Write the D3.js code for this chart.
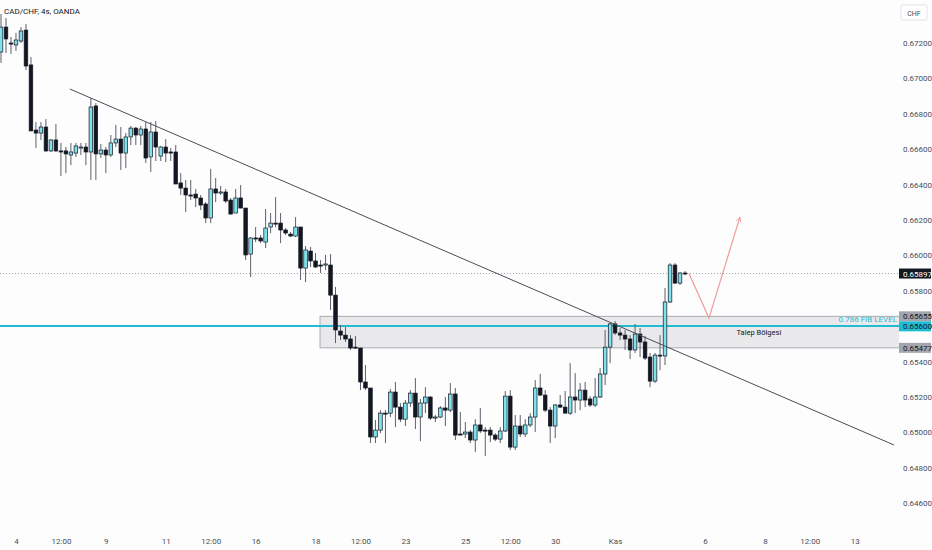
<!DOCTYPE html>
<html>
<head>
<meta charset="utf-8">
<script src="https://cdn.jsdelivr.net/npm/d3@7"></script>
<style>
  body { margin: 0; background: #fdfdfd; }
  text { font-family: Roboto, "Liberation Sans", sans-serif; }
</style>
</head>
<body>
<svg id="chart" width="932" height="550"></svg>
<script>
// CAD/CHF 4h candles (OANDA), 4 Oct - 3 Nov
const opens = [
  0.67149,0.67290,0.67200,0.67189,0.67211,0.67273,0.67076,0.66708,0.66691,0.66725,
  0.66590,0.66652,0.66590,0.66590,0.66567,0.66578,0.66606,0.66612,0.66584,0.66844,
  0.66573,0.66595,0.66567,0.66635,0.66657,0.66578,0.66669,0.66719,0.66680,0.66714,
  0.66556,0.66697,0.66561,0.66612,0.66584,0.66584,0.66409,0.66380,0.66341,0.66346,
  0.66324,0.66290,0.66211,0.66375,0.66352,0.66358,0.66312,0.66239,0.66324,0.66267,
  0.66007,0.66098,0.66098,0.66075,0.66160,0.66182,0.66182,0.66143,0.66120,0.66109,
  0.66160,0.65928,0.66024,0.65968,0.65945,0.65945,0.65945,0.65775,0.65572,0.65549,
  0.65527,0.65481,0.65476,0.65284,0.65250,0.64973,0.65012,0.65108,0.65108,0.65227,
  0.65142,0.65074,0.65165,0.65221,0.65086,0.65165,0.65199,0.65080,0.65086,0.65137,
  0.65125,0.65216,0.64990,0.64990,0.65001,0.64956,0.65041,0.65012,0.65012,0.64984,
  0.64961,0.65007,0.65204,0.64916,0.65035,0.64990,0.65041,0.65086,0.65250,0.65210,
  0.65125,0.65035,0.65154,0.65142,0.65108,0.65199,0.65182,0.65238,0.65188,0.65154,
  0.65199,0.65329,0.65481,0.65612,0.65561,0.65549,0.65527,0.65465,0.65555,0.65510,
  0.65425,0.65289,0.65436,0.65431,0.65736,0.65945,0.65843,0.65900
];
const highs = [
  0.67364,0.67341,0.67234,0.67257,0.67290,0.67307,0.67121,0.66753,0.66753,0.66770,
  0.66657,0.66742,0.66635,0.66612,0.66635,0.66635,0.66635,0.66635,0.66889,0.66861,
  0.66629,0.66612,0.66680,0.66737,0.66725,0.66691,0.66731,0.66725,0.66731,0.66753,
  0.66753,0.66759,0.66618,0.66657,0.66606,0.66623,0.66465,0.66426,0.66426,0.66375,
  0.66341,0.66301,0.66488,0.66437,0.66392,0.66375,0.66324,0.66375,0.66397,0.66267,
  0.66103,0.66160,0.66115,0.66262,0.66239,0.66329,0.66239,0.66154,0.66132,0.66216,
  0.66160,0.66052,0.66047,0.66013,0.65973,0.66002,0.66007,0.65821,0.65606,0.65595,
  0.65549,0.65544,0.65476,0.65380,0.65250,0.65069,0.65125,0.65125,0.65244,0.65284,
  0.65165,0.65182,0.65238,0.65306,0.65188,0.65255,0.65204,0.65097,0.65148,0.65199,
  0.65278,0.65250,0.65114,0.65058,0.65012,0.65074,0.65137,0.65029,0.65029,0.64995,
  0.65029,0.65233,0.65238,0.65097,0.65097,0.65074,0.65108,0.65295,0.65329,0.65238,
  0.65142,0.65159,0.65210,0.65233,0.65391,0.65334,0.65278,0.65284,0.65204,0.65306,
  0.65363,0.65578,0.65617,0.65628,0.65589,0.65578,0.65549,0.65612,0.65589,0.65544,
  0.65448,0.65448,0.65549,0.65815,0.65956,0.65956,0.65905,0.65911
];
const lows = [
  0.67087,0.67143,0.67138,0.67155,0.67200,0.67047,0.66703,0.66606,0.66652,0.66584,
  0.66584,0.66584,0.66448,0.66465,0.66510,0.66556,0.66567,0.66510,0.66426,0.66426,
  0.66550,0.66465,0.66556,0.66612,0.66482,0.66493,0.66623,0.66623,0.66623,0.66522,
  0.66471,0.66533,0.66533,0.66527,0.66533,0.66403,0.66341,0.66245,0.66312,0.66273,
  0.66256,0.66182,0.66182,0.66301,0.66341,0.66296,0.66233,0.66239,0.66267,0.65973,
  0.65877,0.66075,0.66069,0.66041,0.66126,0.66160,0.66069,0.66115,0.66103,0.66103,
  0.65860,0.65849,0.65934,0.65928,0.65900,0.65917,0.65691,0.65504,0.65521,0.65510,
  0.65465,0.65470,0.65238,0.65238,0.64939,0.64939,0.64995,0.64939,0.65086,0.65029,
  0.65058,0.65035,0.65142,0.65018,0.64950,0.65108,0.65069,0.65058,0.65080,0.65035,
  0.65114,0.64956,0.64984,0.64967,0.64939,0.64888,0.64995,0.64865,0.64944,0.64950,
  0.64939,0.65001,0.64899,0.64899,0.64973,0.64973,0.65029,0.65001,0.65204,0.65114,
  0.64939,0.64967,0.65137,0.65108,0.65097,0.65108,0.65125,0.65142,0.65142,0.65142,
  0.65193,0.65267,0.65391,0.65549,0.65521,0.65465,0.65414,0.65448,0.65425,0.65408,
  0.65255,0.65278,0.65351,0.65380,0.65730,0.65838,0.65832,0.65888
];
const closes = [
  0.67290,0.67223,0.67194,0.67217,0.67268,0.67070,0.66703,0.66691,0.66725,0.66590,
  0.66652,0.66590,0.66584,0.66573,0.66584,0.66618,0.66612,0.66584,0.66838,0.66573,
  0.66595,0.66567,0.66635,0.66657,0.66578,0.66669,0.66719,0.66680,0.66714,0.66550,
  0.66697,0.66612,0.66612,0.66578,0.66578,0.66403,0.66380,0.66341,0.66335,0.66324,
  0.66284,0.66211,0.66375,0.66352,0.66358,0.66307,0.66233,0.66324,0.66267,0.66002,
  0.66098,0.66092,0.66081,0.66154,0.66182,0.66177,0.66143,0.66126,0.66109,0.66160,
  0.65928,0.66030,0.65968,0.65934,0.65939,0.65951,0.65775,0.65578,0.65549,0.65527,
  0.65476,0.65476,0.65284,0.65250,0.64973,0.65012,0.65108,0.65103,0.65227,0.65142,
  0.65074,0.65165,0.65221,0.65086,0.65165,0.65199,0.65080,0.65086,0.65137,0.65125,
  0.65216,0.64984,0.64984,0.65001,0.64956,0.65041,0.65007,0.65007,0.64984,0.64961,
  0.65007,0.65204,0.64916,0.65035,0.64990,0.65041,0.65086,0.65250,0.65210,0.65125,
  0.65035,0.65154,0.65142,0.65108,0.65199,0.65182,0.65238,0.65182,0.65154,0.65199,
  0.65329,0.65481,0.65612,0.65561,0.65549,0.65527,0.65465,0.65555,0.65510,0.65419,
  0.65289,0.65436,0.65431,0.65736,0.65945,0.65843,0.65900,0.65897
];

// time axis: candle index of each label
const tickIdx = [3, 12, 21, 33, 42, 51, 63, 72, 81, 93, 102, 111, 123, 141, 153, 162, 171];
const tickLabels = ["4", "12:00", "9", "11", "12:00", "16", "18", "12:00", "23", "25", "12:00", "30", "Kas", "6", "8", "12:00", "13"];
const priceTicks = [0.646, 0.648, 0.650, 0.652, 0.654, 0.656, 0.658, 0.660, 0.662, 0.664, 0.666, 0.668, 0.670, 0.672];

// drawings (candle index, price)
const lastPrice = 0.65897;
const fibLevel = 0.65600;
const zoneStart = 63.9, zoneTop = 0.65655, zoneBottom = 0.65477, zoneLabelIdx = 151.8;
const trendLine = [[13.8, 0.66940], [178.85, 0.64928]];
const arrowPts = [[137.8, 0.65897], [141.8, 0.65645], [148.0, 0.66216]];
const boxValues = [0.65897, 0.65655, 0.65600, 0.65477];

const svg = d3.select("#chart"),
    plotW = 899,
    plotH = 530;

const x = d3.scaleLinear().domain([0, 137]).range([1, 685]);
const y = d3.scaleLinear().domain([0.672, 0.646]).range([43, 503]);
const fmt = d3.format(".5f");

svg.append("rect").attr("width", 932).attr("height", 550).attr("fill", "#fdfdfd");

svg.append("defs").append("clipPath").attr("id", "plot")
    .append("rect").attr("width", plotW).attr("height", plotH);
svg.select("defs").append("marker")
    .attr("id", "head").attr("viewBox", "0 0 10 10")
    .attr("refX", 9).attr("refY", 5)
    .attr("markerWidth", 6).attr("markerHeight", 6)
    .attr("markerUnits", "userSpaceOnUse")
    .attr("orient", "auto")
    .append("path").attr("d", "M1,1 L9,5 L1,9")
    .attr("fill", "none").attr("stroke", "#ef9a9a").attr("stroke-width", 1.4);

const g = svg.append("g").attr("clip-path", "url(#plot)");

// demand zone
g.append("rect")
    .attr("x", x(zoneStart))
    .attr("y", y(zoneTop))
    .attr("width", plotW + 10 - x(zoneStart))
    .attr("height", y(zoneBottom) - y(zoneTop))
    .attr("fill", "#e9e9ec")
    .attr("stroke", "#a9acb5")
    .attr("stroke-width", 1);

// fib level
g.append("line")
    .attr("x1", 0).attr("x2", plotW)
    .attr("y1", y(fibLevel)).attr("y2", y(fibLevel))
    .attr("stroke", "#1fbcd2").attr("stroke-width", 2);

// last price dotted line
g.append("line")
    .attr("x1", 0).attr("x2", plotW)
    .attr("y1", y(lastPrice)).attr("y2", y(lastPrice))
    .attr("stroke", "#a3a6af").attr("stroke-width", 1)
    .attr("stroke-dasharray", "1,2");

// candles
const candles = d3.range(opens.length).map(i => ({
    i, o: opens[i], h: highs[i], l: lows[i], c: closes[i]
}));

const cg = g.selectAll("g.candle")
    .data(candles)
    .enter().append("g").attr("class", "candle");

cg.append("line")
    .attr("x1", d => x(d.i)).attr("x2", d => x(d.i))
    .attr("y1", d => y(d.h)).attr("y2", d => y(d.l))
    .attr("stroke", "#5d606b").attr("stroke-width", 1);

cg.append("rect")
    .attr("x", d => x(d.i) - 1.8)
    .attr("width", 3.6)
    .attr("y", d => y(Math.max(d.o, d.c)))
    .attr("height", d => Math.max(1, Math.abs(y(d.o) - y(d.c))))
    .attr("fill", d => d.c >= d.o ? "#7fe1ed" : "#131722")
    .attr("stroke", "#131722")
    .attr("stroke-width", 0.7);

// trend line
g.append("line")
    .attr("x1", x(trendLine[0][0])).attr("y1", y(trendLine[0][1]))
    .attr("x2", x(trendLine[1][0])).attr("y2", y(trendLine[1][1]))
    .attr("stroke", "#4a4d57").attr("stroke-width", 1);

// projection arrow
g.append("path")
    .attr("d", d3.line().x(d => x(d[0])).y(d => y(d[1]))(arrowPts))
    .attr("fill", "none")
    .attr("stroke", "#ef9a9a")
    .attr("stroke-width", 1.2)
    .attr("marker-end", "url(#head)");

// drawing labels
g.append("text")
    .attr("x", plotW - 2)
    .attr("y", y(fibLevel) - 4)
    .attr("text-anchor", "end")
    .attr("font-size", "8px")
    .attr("fill", "#1fbcd2")
    .text("0.786 FIB LEVEL");

g.append("text")
    .attr("x", x(zoneLabelIdx))
    .attr("y", (y(zoneTop) + y(zoneBottom)) / 2 + 3)
    .attr("text-anchor", "middle")
    .attr("font-size", "7.5px")
    .attr("fill", "#131722")
    .text("Talep Bölgesi");

// price axis
const ya = svg.append("g")
    .attr("transform", "translate(903,0)")
    .call(d3.axisRight(y).tickValues(priceTicks).tickFormat(fmt).tickSize(0).tickPadding(0));
ya.select(".domain").remove();
ya.selectAll("text").attr("font-size", "8px").attr("fill", "#4a4d57").attr("font-family", "Roboto, sans-serif");

// price label boxes
const boxFill = ["#131722", "#a3a6af", "#1fbcd2", "#a3a6af"];
const boxText = ["#ffffff", "#131722", "#131722", "#131722"];
let prevBottom = -Infinity;
boxValues.forEach((v, k) => {
    let cy = y(v);
    if (cy - 5 < prevBottom) cy = prevBottom + 5;
    prevBottom = cy + 5;
    svg.append("rect")
        .attr("x", 899).attr("y", cy - 5)
        .attr("width", 32).attr("height", 10)
        .attr("fill", boxFill[k]);
    svg.append("text")
        .attr("x", 903).attr("y", cy + 3)
        .attr("font-size", "8px")
        .attr("fill", boxText[k])
        .text(fmt(v));
});

// currency box
svg.append("rect")
    .attr("x", 901).attr("y", 5).attr("width", 26).attr("height", 15).attr("rx", 2)
    .attr("fill", "#ffffff").attr("stroke", "#e0e3eb");
svg.append("text")
    .attr("x", 914).attr("y", 15.5)
    .attr("text-anchor", "middle")
    .attr("font-size", "7px")
    .attr("fill", "#4a4d57")
    .text("CHF");

// time axis
const xa = svg.append("g")
    .attr("transform", "translate(0,535)")
    .call(d3.axisBottom(x).tickValues(tickIdx).tickFormat((d, i) => tickLabels[i]).tickSize(0).tickPadding(3));
xa.select(".domain").remove();
xa.selectAll("text").attr("font-size", "8px").attr("fill", "#4a4d57").attr("font-family", "Roboto, sans-serif");

// title
svg.append("text")
    .attr("x", 4).attr("y", 14)
    .attr("font-size", "8px")
    .attr("fill", "#131722")
    .text("CAD/CHF, 4s, OANDA");
</script>
</body>
</html>
